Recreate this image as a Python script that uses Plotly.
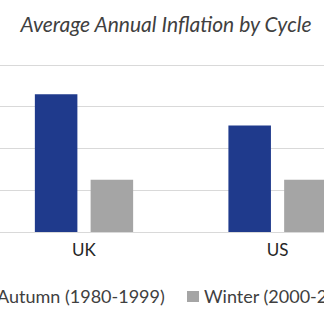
import plotly.graph_objects as go

# Average annual inflation (%) by economic cycle
countries = ["UK", "US"]
autumn_1980_1999 = [6.6, 5.1]
winter_2000_2019 = [2.5, 2.5]

series_names = ["Autumn (1980-1999)", "Winter (2000-2019)"]
series_colors = ["#1F3A8C", "#A5A5A5"]

W, H = 324, 326
base_px = 232                       # baseline (y = 0)
px_per_unit = 167 / 8               # 2-point gridlines about 42 px apart
top_px = 55                         # plot area top, leaves room above the 8% gridline
plot_h = base_px - top_px
y_max = plot_h / px_per_unit

fig = go.Figure()
for name, vals, col in zip(series_names, [autumn_1980_1999, winter_2000_2019], series_colors):
    fig.add_trace(go.Bar(x=countries, y=vals, name=name, marker_color=col,
                         marker_line_width=0, showlegend=False))

def py(px):
    return (base_px - px) / plot_h

font_family = "Lato, 'Open Sans', sans-serif"

fig.update_layout(
    width=W, height=H,
    margin=dict(l=0, r=0, t=top_px, b=H - base_px, autoexpand=False),
    paper_bgcolor="white", plot_bgcolor="white",
    barmode="group", bargap=0.424, bargroupgap=0.237,
    title=dict(text="<i>Average Annual Inflation by Cycle</i>", x=166 / W, xanchor="center",
               y=1 - 25 / H, yanchor="middle",
               font=dict(family=font_family, size=21, color="#404040")),
    xaxis=dict(type="category", range=[-0.434, 1.240], showgrid=False, showline=False,
               ticks="", tickfont=dict(family=font_family, size=17, color="#262626"),
               ticklabelstandoff=6),
    yaxis=dict(range=[0, y_max], tickvals=[0, 2, 4, 6, 8], showticklabels=False,
               gridcolor="#D9D9D9", gridwidth=1, zeroline=True, zerolinecolor="#D9D9D9",
               zerolinewidth=1, showline=False),
    showlegend=False,
)

# Legend row below the axis
legend_font = dict(family=font_family, size=18, color="#404040")
fig.add_annotation(xref="paper", yref="paper", x=167 / W, y=py(296), xanchor="right",
                   yanchor="middle", text=series_names[0], showarrow=False, font=legend_font)
fig.add_annotation(xref="paper", yref="paper", x=202 / W, y=py(296), xanchor="left",
                   yanchor="middle", text=series_names[1], showarrow=False, font=legend_font)
fig.add_shape(type="rect", xref="paper", yref="paper", x0=187 / W, x1=199 / W,
              y0=py(302), y1=py(291), fillcolor=series_colors[1], line_width=0)

fig.write_html("out.html")
